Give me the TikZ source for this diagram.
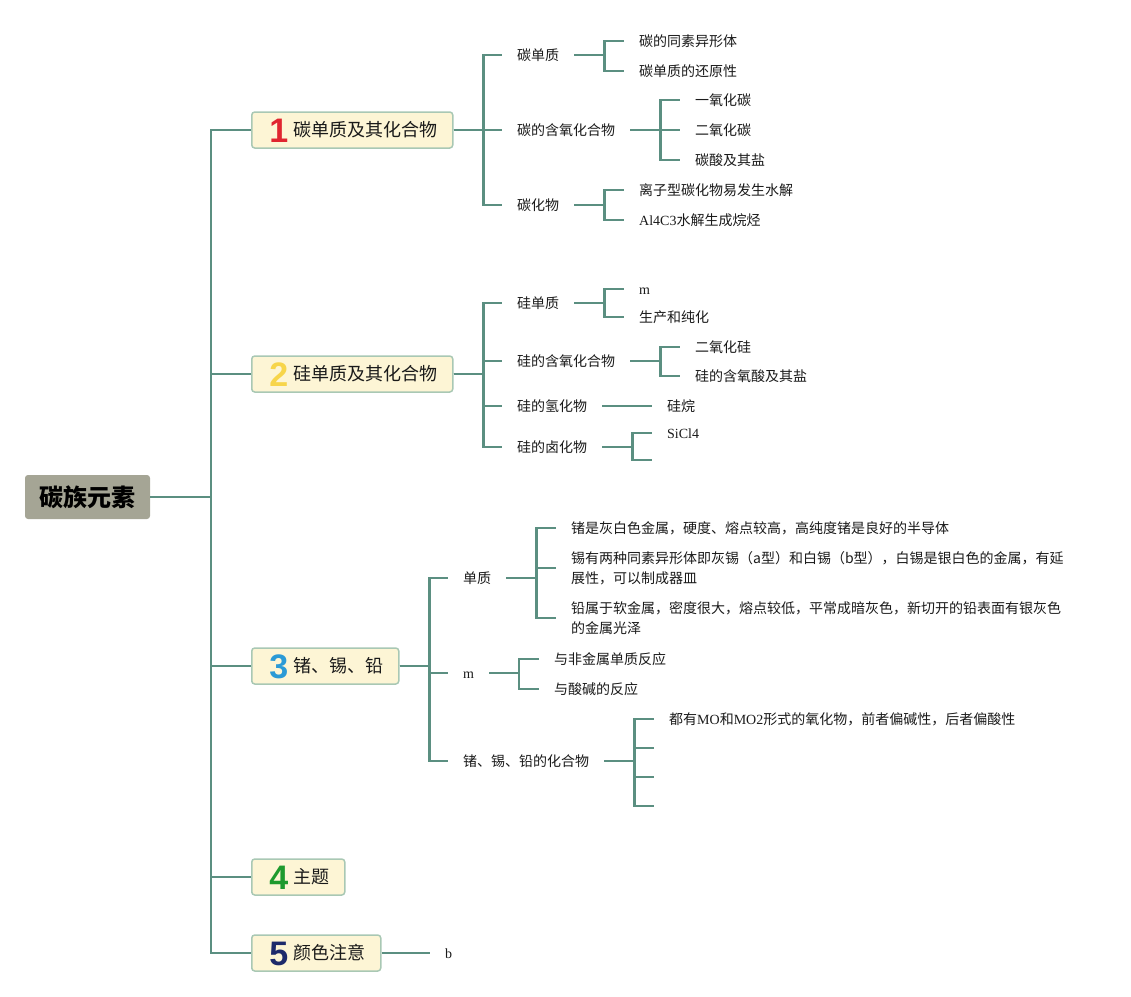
\documentclass[tikz,border=0pt]{standalone}
\usepackage{fontspec}
\setmainfont{Liberation Serif}
\newfontfamily\cjk{Noto Sans CJK SC}
\newfontfamily\numfont{Liberation Sans}
\usepackage{tikz}

\definecolor{linia}{HTML}{5B8F81}
\definecolor{groc}{HTML}{FDF5D5}
\definecolor{vora}{HTML}{A9C8B4}
\definecolor{arrelgris}{HTML}{A5A595}
\definecolor{textnegre}{HTML}{1A1A1A}
\definecolor{vermell}{HTML}{E02530}
\definecolor{grocfort}{HTML}{F7D54A}
\definecolor{blau}{HTML}{2B9AD6}
\definecolor{verd}{HTML}{1E9A2E}
\definecolor{blaufosc}{HTML}{1D2A6B}

\newcommand\lat[1]{{\rmfamily #1}}
\newcommand\numtema[3]{\kern17pt\makebox[20pt][c]{\raisebox{-5.4pt}{\fontsize{34}{34}\selectfont\numfont\bfseries\textcolor{#1}{#2}}}\kern5pt#3\kern15pt\relax}

\tikzset{
  arrel/.style={fill=arrelgris, rounded corners=3pt, minimum width=125pt, minimum height=44pt,
    inner sep=0pt, font=\cjk\bfseries\fontsize{24}{24}\selectfont, text=black},
  tema/.style={draw=vora, fill=groc, line width=1.5pt, rounded corners=3pt, anchor=west,
    inner xsep=0pt, inner ysep=0pt, minimum height=36pt, text height=15.8pt, text depth=2.2pt,
    font=\cjk\fontsize{18}{18}\selectfont, text=textnegre},
  fulla/.style={anchor=west, inner xsep=15pt, inner ysep=0pt, text height=12.3pt, text depth=1.7pt,
    font=\cjk\fontsize{14}{20}\selectfont, text=textnegre},
  nota/.style={anchor=west, inner xsep=15pt, inner ysep=1pt, align=left,
    font=\cjk\fontsize{14}{20}\selectfont, text=textnegre},
  link/.style={draw=linia, line width=2.2pt},
}

\begin{document}
\begin{tikzpicture}[x=1pt, y=-1pt]
  \useasboundingbox (0,0) rectangle (1131,996);

  % Arrel i temes
  \node[arrel] (arrel) at (87.5,497) {碳族元素};
  \node[tema] (t1) at (251,130) {\numtema{vermell}{1}{碳单质及其化合物}};
  \node[tema] (t2) at (251,374) {\numtema{grocfort}{2}{硅单质及其化合物}};
  \node[tema] (t3) at (251,666) {\numtema{blau}{3}{锗、锡、铅}};
  \node[tema] (t4) at (251,877) {\numtema{verd}{4}{主题}};
  \node[tema] (t5) at (251,953) {\numtema{blaufosc}{5}{颜色注意}};
  \draw[link] (arrel.east) -- ++(61,0) |- (t1.west);
  \draw[link] (arrel.east) -- ++(61,0) |- (t2.west);
  \draw[link] (arrel.east) -- ++(61,0) |- (t3.west);
  \draw[link] (arrel.east) -- ++(61,0) |- (t4.west);
  \draw[link] (arrel.east) -- ++(61,0) |- (t5.west);

  % Tema 1: carboni
  \node[fulla] (t1a) at (502,55) {碳单质};
  \node[fulla] (t1b) at (502,130) {碳的含氧化合物};
  \node[fulla] (t1c) at (502,205) {碳化物};
  \draw[link] (t1.east) -- ++(30,0) |- (t1a.west);
  \draw[link] (t1.east) -- ++(30,0) |- (t1b.west);
  \draw[link] (t1.east) -- ++(30,0) |- (t1c.west);
  \node[fulla] (t1a1) at (624,41) {碳的同素异形体};
  \node[fulla] (t1a2) at (624,71) {碳单质的还原性};
  \draw[link] (t1a.east) -- ++(30,0) |- (t1a1.west);
  \draw[link] (t1a.east) -- ++(30,0) |- (t1a2.west);
  \node[fulla] (t1b1) at (680,100) {一氧化碳};
  \node[fulla] (t1b2) at (680,130) {二氧化碳};
  \node[fulla] (t1b3) at (680,160) {碳酸及其盐};
  \draw[link] (t1b.east) -- ++(30,0) |- (t1b1.west);
  \draw[link] (t1b.east) -- ++(30,0) |- (t1b2.west);
  \draw[link] (t1b.east) -- ++(30,0) |- (t1b3.west);
  \node[fulla] (t1c1) at (624,190) {离子型碳化物易发生水解};
  \node[fulla] (t1c2) at (624,220) {\lat{Al4C3}水解生成烷烃};
  \draw[link] (t1c.east) -- ++(30,0) |- (t1c1.west);
  \draw[link] (t1c.east) -- ++(30,0) |- (t1c2.west);

  % Tema 2: silici
  \node[fulla] (t2a) at (502,303) {硅单质};
  \node[fulla] (t2b) at (502,361) {硅的含氧化合物};
  \node[fulla] (t2c) at (502,406) {硅的氢化物};
  \node[fulla] (t2d) at (502,447) {硅的卤化物};
  \draw[link] (t2.east) -- ++(30,0) |- (t2a.west);
  \draw[link] (t2.east) -- ++(30,0) |- (t2b.west);
  \draw[link] (t2.east) -- ++(30,0) |- (t2c.west);
  \draw[link] (t2.east) -- ++(30,0) |- (t2d.west);
  \node[fulla] (t2a1) at (624,289) {\lat{m}};
  \node[fulla] (t2a2) at (624,317) {生产和纯化};
  \draw[link] (t2a.east) -- ++(30,0) |- (t2a1.west);
  \draw[link] (t2a.east) -- ++(30,0) |- (t2a2.west);
  \node[fulla] (t2b1) at (680,347) {二氧化硅};
  \node[fulla] (t2b2) at (680,376) {硅的含氧酸及其盐};
  \draw[link] (t2b.east) -- ++(30,0) |- (t2b1.west);
  \draw[link] (t2b.east) -- ++(30,0) |- (t2b2.west);
  \node[fulla] (t2c1) at (652,406) {硅烷};
  \draw[link] (t2c.east) -- (t2c1.west);
  \node[fulla] (t2d1) at (652,433) {\lat{SiCl4}};
  \coordinate (t2d2) at (652,460);
  \draw[link] (t2d.east) -- ++(30,0) |- (t2d1.west);
  \draw[link] (t2d.east) -- ++(30,0) |- (t2d2);

  % Tema 3: germani, estany, plom
  \node[fulla] (t3a) at (448,578) {单质};
  \node[fulla] (t3b) at (448,673) {\lat{m}};
  \node[fulla] (t3c) at (448,761) {锗、锡、铅的化合物};
  \draw[link] (t3.east) -- ++(30,0) |- (t3a.west);
  \draw[link] (t3.east) -- ++(30,0) |- (t3b.west);
  \draw[link] (t3.east) -- ++(30,0) |- (t3c.west);
  \node[fulla] (t3a1) at (556,528) {锗是灰白色金属，硬度、熔点较高，高纯度锗是良好的半导体};
  \node[nota] (t3a2) at (556,568) {锡有两种同素异形体即灰锡（a型）和白锡（b型），白锡是银白色的金属，有延\\展性，可以制成器皿};
  \node[nota] (t3a3) at (556,618) {铅属于软金属，密度很大，熔点较低，平常成暗灰色，新切开的铅表面有银灰色\\的金属光泽};
  \draw[link] (t3a.east) -- ++(30,0) |- (t3a1.west);
  \draw[link] (t3a.east) -- ++(30,0) |- (t3a2.west);
  \draw[link] (t3a.east) -- ++(30,0) |- (t3a3.west);
  \node[fulla] (t3b1) at (539,659) {与非金属单质反应};
  \node[fulla] (t3b2) at (539,689) {与酸碱的反应};
  \draw[link] (t3b.east) -- ++(30,0) |- (t3b1.west);
  \draw[link] (t3b.east) -- ++(30,0) |- (t3b2.west);
  \node[fulla] (t3c1) at (654,719) {都有\lat{MO}和\lat{MO2}形式的氧化物，前者偏碱性，后者偏酸性};
  \coordinate (t3c2) at (654,748);
  \coordinate (t3c3) at (654,777);
  \coordinate (t3c4) at (654,806);
  \draw[link] (t3c.east) -- ++(30,0) |- (t3c1.west);
  \draw[link] (t3c.east) -- ++(30,0) |- (t3c2);
  \draw[link] (t3c.east) -- ++(30,0) |- (t3c3);
  \draw[link] (t3c.east) -- ++(30,0) |- (t3c4);

  % Tema 5
  \node[fulla] (t5a) at (430,953) {\lat{b}};
  \draw[link] (t5.east) -- (t5a.west);
\end{tikzpicture}
\end{document}
